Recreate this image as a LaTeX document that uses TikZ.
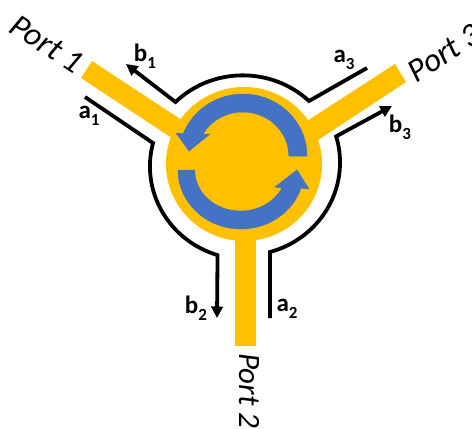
\documentclass[tikz,border=0pt]{standalone}
\usepackage{fontspec}
\setmainfont{Carlito}
\usetikzlibrary{arrows.meta}
\definecolor{gold}{HTML}{FFC000}
\definecolor{bluearrow}{HTML}{4472C4}
\newcommand{\wavelabel}[2]{\textbf{#1\raisebox{-0.28em}{\fontsize{17}{17}\selectfont #2}}}
\tikzset{
  stub/.style={fill=gold,draw=none},
  circulation/.style={fill=bluearrow,draw=bluearrow!80!gray,line width=0.5pt},
  trace/.style={draw=black,line width=3.8pt,line join=miter},
  wavearrow/.style={trace,-{Triangle[length=11.5pt,width=11.5pt]}},
  wavetext/.style={font=\fontsize{25}{25}\selectfont,inner sep=0pt,anchor=center},
  porttext/.style={font=\fontsize{33}{33}\selectfont\itshape,inner sep=0pt,anchor=center},
  porttextsmall/.style={font=\fontsize{31}{31}\selectfont\itshape,inner sep=0pt,anchor=center}
}
\begin{document}
\begin{tikzpicture}[yscale=-1,x=1pt,y=1pt]
\useasboundingbox (0,0) rectangle (472,429);
% junction
\fill[gold] (244,164) ellipse [x radius=78pt,y radius=77pt];
\fill[stub] (92,61) -- (81,78) -- (190,150) -- (200,132) -- cycle;
\fill[stub] (395,64) -- (406,82) -- (300,152) -- (290,132) -- cycle;
\fill[stub] (235,230) rectangle (256,346);
% circulation arrows
\path[circulation] (307,156) arc[start angle=0,end angle=-159,x radius=64pt,y radius=62pt]
  -- (176,133) -- (189,151) -- (210,134) -- (203,134)
  arc[start angle=-150,end angle=0,x radius=46pt,y radius=44pt] -- cycle;
\path[circulation] (178,170) arc[start angle=180,end angle=17.8,x radius=63pt,y radius=59pt]
  -- (309,189) -- (297,170) -- (275,187) -- (282,188)
  arc[start angle=26,end angle=180,x radius=46pt,y radius=41pt] -- cycle;
% traces
\coordinate (a1s) at (85,97);
\coordinate (c1) at (153,143);
\coordinate (b2e) at (217,318);
\coordinate (a2s) at (270,318);
\coordinate (c2) at (270,252);
\coordinate (b3e) at (392,106);
\coordinate (a3s) at (367,68);
\coordinate (c3) at (309,101);
\coordinate (b1e) at (126,64);
\draw[wavearrow] (a1s) -- (c1) arc[start angle=194.5,end angle=107.2,x radius=96pt,y radius=93pt] -- (b2e);
\draw[wavearrow] (a2s) -- (c2) arc[start angle=74.3,end angle=-16.3,x radius=96pt,y radius=93pt] -- (b3e);
\draw[wavearrow] (a3s) -- (c3) arc[start angle=-46.4,end angle=-134.5,x radius=96pt,y radius=93pt] -- (b1e);
% labels
\node[wavetext] (lb1) at (145,56) {\wavelabel{b}{1}};
\node[wavetext] (la1) at (89,116) {\wavelabel{a}{1}};
\node[wavetext] (lb2) at (196,308) {\wavelabel{b}{2}};
\node[wavetext] (la2) at (287,309) {\wavelabel{a}{2}};
\node[wavetext] (la3) at (344,60) {\wavelabel{a}{3}};
\node[wavetext] (lb3) at (400,127) {\wavelabel{b}{3}};
\node[porttext,rotate=-33] (p1) at (47,44) {Port 1};
\node[porttext,rotate=33] (p3) at (444,53) {Port 3};
\node[porttextsmall,rotate=-90] (p2) at (249,391) {Port 2};
\end{tikzpicture}
\end{document}
